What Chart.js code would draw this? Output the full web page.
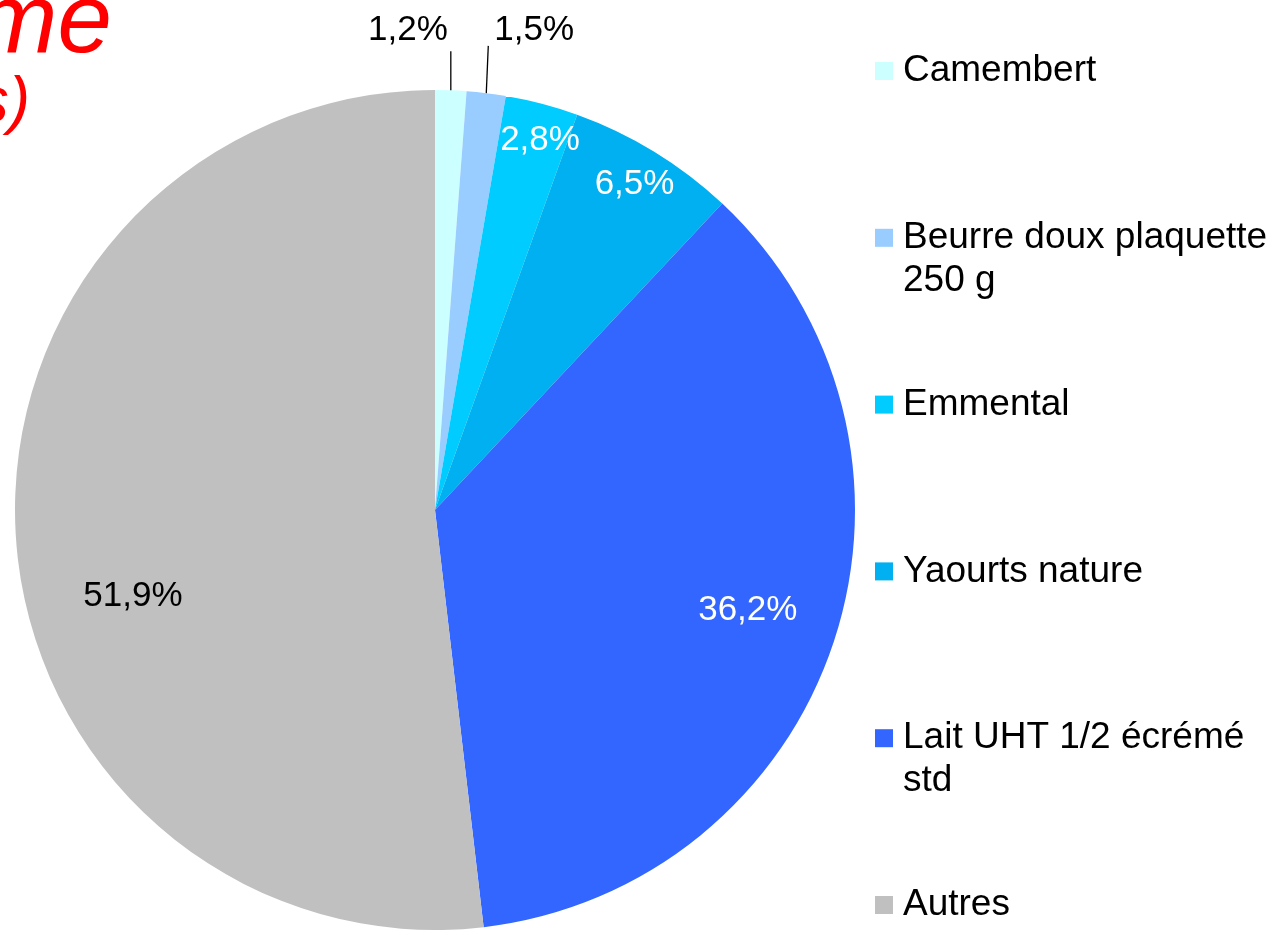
<!DOCTYPE html>
<html><head><meta charset="utf-8">
<script src="https://cdn.jsdelivr.net/npm/chart.js@4/dist/chart.umd.min.js"></script>
<style>html,body{margin:0;padding:0;background:#fff;overflow:hidden}#wrap{position:relative;width:1268px;height:930px}</style>
</head><body><div id="wrap"><canvas id="c" width="1268" height="930"></canvas></div>
<script>
const categories = ["Camembert", "Beurre doux plaquette 250 g", "Emmental", "Yaourts nature", "Lait UHT 1/2 écrémé std", "Autres"];
const values = [1.2, 1.5, 2.8, 6.5, 36.2, 51.9];
const valueLabels = ["1,2%", "1,5%", "2,8%", "6,5%", "36,2%", "51,9%"];
const colors = ["#CCFFFF", "#99CCFF", "#00CCFF", "#00B0F0", "#3366FF", "#C0C0C0"];
const labelColors = ["#000000", "#000000", "#FFFFFF", "#FFFFFF", "#FFFFFF", "#000000"];
const titleLines = ["Volume", "(en volumes)"];

const FONT = '"Liberation Sans", Arial, sans-serif';

// placement of value labels (style only)
const placement = [
  {outside: true, leaderTop: 1.092, leaderDx: 0, align: 'right', textDx: -3, textY: 1.143},
  {outside: true, leaderTop: 1.105, leaderDx: 2, align: 'left', textDx: 6, textY: 1.143},
  {r: 0.916, da: 1.1},
  {r: 0.91, da: 0},
  {r: 0.782, da: -0.5},
  {r: 0.748, da: -12.6}
];

const labelPlugin = {
  id: 'valueLabels',
  afterDatasetsDraw(chart) {
    const ctx = chart.ctx;
    const meta = chart.getDatasetMeta(0);
    ctx.save();
    ctx.font = '35px ' + FONT;
    ctx.textBaseline = 'middle';
    meta.data.forEach((arc, i) => {
      const p = arc.getProps(['x', 'y', 'startAngle', 'endAngle', 'outerRadius']);
      const mid = (p.startAngle + p.endAngle) / 2;
      const pl = placement[i];
      ctx.fillStyle = labelColors[i];
      if (pl.outside) {
        const ex = p.x + p.outerRadius * Math.cos(mid);
        const ey = p.y + p.outerRadius * Math.sin(mid);
        const tx = ex + pl.leaderDx;
        const ty = p.y - pl.leaderTop * p.outerRadius;
        ctx.strokeStyle = '#000';
        ctx.lineWidth = 1.3;
        ctx.beginPath();
        ctx.moveTo(ex, ey);
        ctx.lineTo(tx, ty);
        ctx.stroke();
        ctx.textAlign = pl.align;
        ctx.fillText(valueLabels[i], tx + pl.textDx, p.y - pl.textY * p.outerRadius);
      } else {
        const a = mid + pl.da * Math.PI / 180;
        const r = pl.r * p.outerRadius;
        ctx.textAlign = 'center';
        ctx.fillText(valueLabels[i], p.x + r * Math.cos(a), p.y + r * Math.sin(a));
      }
    });
    ctx.restore();
  }
};

function wrap(ctx, text, maxW) {
  const words = text.split(' ');
  const lines = [];
  let cur = '';
  for (const w of words) {
    const t = cur ? cur + ' ' + w : w;
    if (ctx.measureText(t).width > maxW && cur) { lines.push(cur); cur = w; }
    else cur = t;
  }
  if (cur) lines.push(cur);
  return lines;
}

const legendPlugin = {
  id: 'sideLegend',
  afterDraw(chart) {
    const ctx = chart.ctx;
    ctx.save();
    ctx.font = '37px ' + FONT;
    ctx.textBaseline = 'middle';
    ctx.textAlign = 'left';
    const x0 = 875, sq = 18, tx = 903, y0 = 71, y1 = 905, lh = 43;
    const step = (y1 - y0) / (categories.length - 1);
    categories.forEach((c, i) => {
      const y = y0 + i * step;
      ctx.fillStyle = colors[i];
      ctx.fillRect(x0, y - sq / 2, sq, sq);
      ctx.fillStyle = '#000';
      const lines = wrap(ctx, c, 1268 - tx + 4);
      lines.forEach((ln, k) => ctx.fillText(ln, tx, y + k * lh));
    });
    // partial red title
    ctx.fillStyle = '#FF0000';
    ctx.textAlign = 'right';
    ctx.textBaseline = 'alphabetic';
    ctx.font = 'italic 98px ' + FONT;
    ctx.fillText(titleLines[0], 112, 52);
    ctx.font = 'italic 64px ' + FONT;
    ctx.fillText(titleLines[1], 30, 122);
    ctx.restore();
  }
};

new Chart(document.getElementById('c'), {
  type: 'pie',
  data: {
    labels: categories,
    datasets: [{data: values, backgroundColor: colors, borderWidth: 0}]
  },
  options: {
    responsive: false,
    devicePixelRatio: 1,
    animation: false,
    layout: {padding: {left: 15, top: 90, right: 413, bottom: 0}},
    plugins: {legend: {display: false}, tooltip: {enabled: false}, title: {display: false}}
  },
  plugins: [labelPlugin, legendPlugin]
});
</script>
</body></html>
